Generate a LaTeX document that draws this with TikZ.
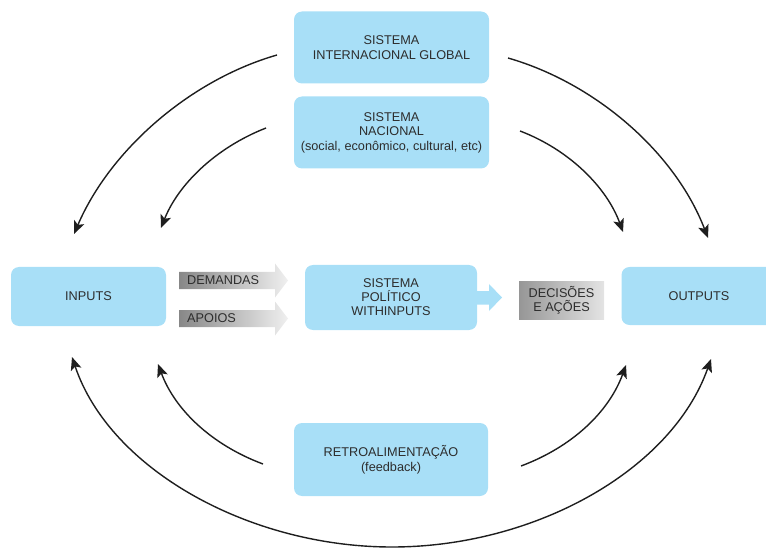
\documentclass[tikz,border=0pt]{standalone}
\usepackage{fontspec}
\setmainfont{Liberation Sans}
\usetikzlibrary{arrows.meta}
\definecolor{boxblue}{RGB}{168,223,247}
\definecolor{txt}{RGB}{45,45,45}
\definecolor{ln}{RGB}{30,30,30}
\definecolor{gdark}{RGB}{135,135,135}
\definecolor{glight}{RGB}{240,240,240}
\definecolor{ddark}{RGB}{150,150,150}
\definecolor{dlight}{RGB}{228,228,228}
\begin{document}
\begin{tikzpicture}[x=1pt,y=-1pt,
  font=\fontsize{12.7}{14.5}\selectfont,
  bbox/.style={fill=boxblue, rounded corners=8pt, text=txt, align=center, inner sep=0pt},
  lbl/.style={text=txt, inner sep=0pt, anchor=west},
  conn/.style={draw=ln, line width=1.4pt, -{Stealth[length=13pt,width=11pt,inset=3pt]}},
  conn2/.style={draw=ln, line width=1.4pt, {Stealth[length=13pt,width=11pt,inset=3pt]}-{Stealth[length=13pt,width=11pt,inset=3pt]}}]
\useasboundingbox (0,0) rectangle (766,548);

% boxes
\node[bbox, minimum width=195pt, minimum height=72pt] (glob) at (391.5,47.5) {SISTEMA\\INTERNACIONAL GLOBAL};
\node[bbox, minimum width=195pt, minimum height=72pt] (nac) at (391.5,132.5) {SISTEMA\\NACIONAL\\(social, econômico, cultural, etc)};
\node[bbox, minimum width=155pt, minimum height=59pt] (inp) at (88.5,296.5) {INPUTS};
\node[bbox, minimum width=155pt, minimum height=58pt] (out) at (699,296) {OUTPUTS};
\node[bbox, minimum width=194pt, minimum height=73pt] (retro) at (391,459.5) {RETROALIMENTAÇÃO\\(feedback)};

% central system with small blue arrow
\fill[boxblue] (476,291) -- (489,291) -- (489,284) -- (502,297.5) -- (489,311) -- (489,304.5) -- (476,304.5) -- cycle;
\node[bbox, minimum width=172pt, minimum height=65pt, font=\fontsize{12.7}{14}\selectfont] (sys) at (391,297.5) {SISTEMA\\POLÍTICO\\WITHINPUTS};

% gradient arrows
\shade[left color=gdark, right color=glight] (179,272) -- (275,272) -- (275,263.5) -- (288,280.5) -- (275,297.5) -- (275,289) -- (179,289) -- cycle;
\node[lbl] (dem) at (187,280.5) {DEMANDAS};
\shade[left color=gdark, right color=glight] (179,310) -- (275,310) -- (275,301.5) -- (288,318.5) -- (275,335.5) -- (275,327) -- (179,327) -- cycle;
\node[lbl] (apo) at (187,318.5) {APOIOS};

% decisions box
\shade[left color=ddark, right color=dlight] (519,282) rectangle (604,319);
\node[text=txt, align=center, inner sep=0pt, font=\fontsize{12.7}{14}\selectfont] (dec) at (561.5,300.5) {DECISÕES\\E AÇÕES};

% curve end points
\coordinate (a1) at (277,55);   \coordinate (a2) at (74,234);
\coordinate (b1) at (266,128);  \coordinate (b2) at (161,228);
\coordinate (c1) at (508,58);   \coordinate (c2) at (708,238);
\coordinate (d1) at (520,131);  \coordinate (d2) at (623,232);
\coordinate (e1) at (263,464);  \coordinate (e2) at (158,364);
\coordinate (f1) at (521,466);  \coordinate (f2) at (626,365);
\coordinate (gl) at (72,357);   \coordinate (gm) at (392,547);  \coordinate (gr) at (711,359);

\draw[conn] (a1) .. controls (190,80) and (110,150) .. (a2);
\draw[conn] (b1) .. controls (215,148) and (178,185) .. (b2);
\draw[conn] (c1) .. controls (595,83) and (675,152) .. (c2);
\draw[conn] (d1) .. controls (570,150) and (607,188) .. (d2);
\draw[conn] (e1) .. controls (212,445) and (175,410) .. (e2);
\draw[conn] (f1) .. controls (572,447) and (609,412) .. (f2);
\draw[conn2] (gl) .. controls (110,470) and (250,547) .. (gm) .. controls (535,547) and (672,470) .. (gr);
\end{tikzpicture}
\end{document}
